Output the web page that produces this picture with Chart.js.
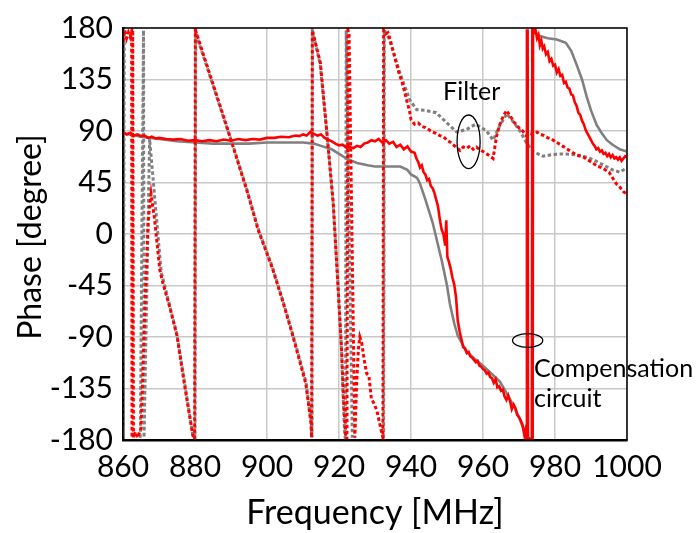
<!DOCTYPE html>
<html>
<head>
<meta charset="utf-8">
<script src="https://cdn.jsdelivr.net/npm/chart.js@4.4.1/dist/chart.umd.min.js"></script>
<style>
  html, body { margin: 0; padding: 0; background: #fff; }
  #phaseChart { display: block; }
</style>
</head>
<body>
<canvas id="phaseChart" width="699" height="533"></canvas>
<script>
// ---- data (frequency in MHz, phase in degrees) ----
const xTicks = [860, 880, 900, 920, 940, 960, 980, 1000];
const yTicks = [-180, -135, -90, -45, 0, 45, 90, 135, 180];

// compensation circuit, simulated (grey solid)
const compSimFreq = [860, 865, 870, 875, 880, 885, 890, 895, 900, 905, 910, 913, 915, 918, 920, 922, 925, 928, 930, 935, 937, 939, 940, 941.7, 942.5, 944, 946, 947, 948.6, 950, 950.8, 952, 953, 955.5, 958, 960, 962, 964.7, 966, 968.3, 970, 972, 973.6, 973.7, 974.5, 975.8, 978, 980.5, 983, 984.5, 986, 987.5, 988.8, 990, 991.6, 993, 994.4, 996, 998, 1000];
const compSimPhase = [88, 85, 83, 81, 80, 79, 79, 79, 80, 80, 80, 79, 77, 74, 70, 66, 62, 60, 59, 59, 59, 56, 52, 49, 44, 30, 10, -3, -24, -45, -61, -78, -89, -103, -110, -115, -121, -129, -136, -149, -160, -177, -180, 180, 176, 173, 171, 170, 167, 160, 148, 135, 120, 108, 95, 88, 82, 78, 74, 72];

// compensation circuit, measured (red solid)
const compMeasFreq = [860, 861, 862, 863, 864, 865, 866, 867, 868, 869, 870, 872, 874, 876, 878, 880, 882, 884, 886, 888, 890, 892, 894, 896, 898, 900, 902, 904, 906, 908, 909, 910, 911, 912, 913, 914, 915, 916, 917, 918, 919, 920, 921, 922, 923, 924, 925, 926, 927, 928, 929, 930, 931, 932, 933, 934, 935, 936, 937, 938, 939, 940, 941, 941.5, 942, 942.5, 943, 943.5, 944, 944.5, 945, 945.5, 946, 946.5, 947, 947.5, 948, 948.5, 949, 949.5, 949.8, 950.1, 950.5, 951, 951.5, 952, 952.5, 953, 953.5, 954, 954.5, 955, 955.5, 956, 956.5, 957, 957.5, 958, 958.5, 959, 959.5, 960, 960.5, 961, 961.5, 962, 962.5, 963, 963.5, 964, 964.5, 965, 965.5, 966, 966.5, 967, 967.5, 968, 968.5, 969, 969.5, 970, 970.5, 971, 971.5, 971.9, 972.1, 972.2, 972.3, 972.4, 972.5, 973.6, 973.7, 973.8, 973.9, 974.2, 974.6, 975, 975.4, 975.8, 976.2, 976.6, 977, 977.5, 978, 978.5, 979, 979.5, 980, 980.5, 981, 981.5, 982, 982.5, 983, 983.5, 984, 984.5, 985, 985.5, 986, 986.5, 987, 987.5, 988, 988.5, 989, 989.5, 990, 990.5, 991, 991.5, 992, 992.5, 993, 993.5, 994, 994.5, 995, 995.5, 996, 996.5, 997, 997.5, 998, 998.5, 999, 999.5, 1000];
const compMeasPhase = [89, 87, 88.5, 86, 87, 85.5, 86, 84, 85, 83.5, 84, 83, 82.5, 83, 81.5, 82, 81, 82, 81, 82.5, 81.5, 83, 82, 83, 82.5, 84, 84, 85, 84.5, 86, 85.5, 87, 86, 89, 87.5, 86, 87, 84, 82.5, 81, 79, 77.5, 78, 75.5, 76, 75, 77, 76, 79, 80, 82, 81, 83, 80, 82, 79, 80.5, 76, 78, 74, 76.5, 72, 71, 66, 63, 58, 60, 54, 52, 47, 48, 42, 40, 36, 30, 24, 13, 4, 0, -10, 12, -20, -24, -30, -38, -44, -55, -76, -85, -92, -99, -100, -104, -103, -107, -108, -110, -112, -111, -115, -116, -118, -119, -122, -121, -125, -126, -130, -127, -134, -133, -137, -136, -142, -145, -141, -146, -153, -149, -152, -158, -160, -163, -167, -176, -170, -179, 179, -179, 179, -179, -179, 179, -179, 179, 176, 178, 171, 174, 165, 169, 162, 164, 157, 159, 151, 153, 147, 148, 141, 144, 138, 139, 132, 133, 128, 127, 122, 121, 115, 112, 106, 104, 99, 96, 91, 88, 85, 82, 79, 77, 74, 75, 72, 73, 70, 71, 68, 70, 67, 69, 66, 67, 65, 67, 64, 66, 68, 67];

// filter, simulated (grey dotted); null = no line drawn
const filterSimFreq = [860, 860.1, 860.35, 860.5, 864.8, 865.7, 865.85, 867.4, 870.6, 875, 879.4, 880, 880.2, 881, 885, 888, 891, 894.7, 897.5, 901.5, 904.4, 907, 910.8, 912.2, 912.5, 912.6, 914.8, 916.6, 918.4, 919.7, 920.7, 921.1, 921.6, 921.8, 922, 923.7, 924, 932.4, 932.6, 934, 936, 937, 939.7, 941.6, 944, 947, 950, 952.7, 955.5, 958, 961, 962.8, 964.7, 966.6, 968.4, 970.3, 972, 974, 976.7, 979.5, 982, 985, 987.8, 990.6, 993, 996, 998, 1000];
const filterSimPhase = [-170, -178, 178, null, -178, 178, -178, 83, -33, -88, -176, -179, 178, 168, 130, 101, 73, 36, 5, -29, -58, -86, -129, -163, -178, 178, 148, 89, 26, -45, -101, -139, -176, -179, 178, -178, null, -178, 178, 170, 150, 140, 117, 108.6, 108, 106, 97, 89, 91.5, 96, 90, 82, 95, 105, 98, 90, 80, 72, 68, 69.5, 70, 69.5, 68, 65, 61, 56, 54, 58];

// filter, measured (red dotted)
const filterMeasFreq = [860, 860.5, 861, 861.5, 862, 862.4, 862.5, 862.7, 862.9, 863.5, 864, 864.5, 865, 866, 867, 867.8, 868.8, 870.2, 871, 873, 875, 877, 879.4, 879.9, 880.1, 881, 882, 885, 888, 891, 894.7, 897.5, 901.5, 904.4, 907, 910.8, 912.2, 912.4, 912.6, 914.8, 916.6, 918.4, 919.7, 920.7, 921.2, 921.8, 922.2, 922.5, 922.8, 924.4, 924.9, 925.4, 925.8, 926.3, 927, 927.7, 928.3, 929, 929.7, 930.5, 931.4, 932.2, 932.4, 933, 933.6, 934.2, 934.6, 935.2, 935.6, 936.2, 936.8, 937.4, 938, 938.5, 939, 939.5, 940, 940.5, 941, 942, 943, 944, 945, 946, 947, 948, 949, 950, 951, 951.7, 952.5, 953.6, 954.5, 955.5, 956.4, 957.3, 958.2, 959, 960, 961, 962, 962.8, 963.3, 963.8, 964.5, 965.2, 966, 966.6, 967.3, 968, 968.8, 969.5, 970.3, 971, 972, 973, 974, 975, 976, 977, 978, 979, 980, 981, 982, 983, 984, 985, 986, 987, 988, 989, 990, 991, 992, 993, 994, 995, 996, 997, 998, 999, 1000];
const filterMeasPhase = [168, 178, 171, 176, 172, 177, -178, 178, -178, -173, -178, -174, -170, -73, 12, 35, 12, -31, -42, -64, -89, -130, -176, -179, 178, 170, 160, 131, 102, 72, 35, 4, -30, -59, -87, -131, -165, -178, 178, 150, 90, 27, -44, -100, -140, -176, -179, 178, 175, -178, -130, -100, -90, -95, -110, -122, -124, -144, -148, -154, -167, -178, 178, 175, 176, 170, 165, 158, 153, 146, 139, 134, 127, 121, 114, 109, 100, 98, 96, 97, 94, 93, 91, 89, 88, 86, 85, 82, 80, 78, 76, 73, 76, 75, 77, 74, 76, 74, 72, 70, 68, 66, 76, 86, 94, 100, 105, 108, 104, 101, 97, 95, 91, 90, 86, 88, 87, 89, 87, 86, 84, 83, 81, 79, 77, 75, 73, 71, 69, 68, 67, 65, 63, 61, 59, 58, 56, 54, 49, 44, 41, 37, 35];

const FONT = "Lato, 'Noto Sans', sans-serif";

function toPoints(freqs, phases) {
  return freqs.map((f, i) => ({ x: f, y: phases[i] }));
}

// ---- annotations (ellipses + labels), placed in data coordinates ----
const annotationPlugin = {
  id: "phaseAnnotations",
  afterDatasetsDraw(chart) {
    const { ctx, scales: { x, y } } = chart;
    ctx.save();
    ctx.strokeStyle = "#000";
    ctx.lineWidth = 1.3;

    // filter ellipse
    ctx.beginPath();
    ctx.ellipse(x.getPixelForValue(956.0), y.getPixelForValue(80.6),
      Math.abs(x.getPixelForValue(959.2) - x.getPixelForValue(956.0)),
      Math.abs(y.getPixelForValue(104) - y.getPixelForValue(80.6)), 0, 0, Math.PI * 2);
    ctx.stroke();

    // compensation ellipse
    ctx.beginPath();
    ctx.ellipse(x.getPixelForValue(972.4), y.getPixelForValue(-93),
      Math.abs(x.getPixelForValue(976.6) - x.getPixelForValue(972.4)),
      Math.abs(y.getPixelForValue(-87) - y.getPixelForValue(-93)), 0, 0, Math.PI * 2);
    ctx.stroke();

    ctx.fillStyle = "#000";
    ctx.font = "25px " + FONT;
    ctx.textBaseline = "middle";
    ctx.textAlign = "left";
    ctx.fillText("Filter", x.getPixelForValue(948.9), y.getPixelForValue(124));
    ctx.fillText("Compensation", x.getPixelForValue(974.2), y.getPixelForValue(-118));
    ctx.fillText("circuit", x.getPixelForValue(974.2), y.getPixelForValue(-144));
    ctx.restore();
  },
  afterDraw(chart) {
    const { ctx, chartArea: a } = chart;
    ctx.save();
    ctx.strokeStyle = "#000";
    ctx.lineWidth = 1.5;
    ctx.strokeRect(a.left, a.top, a.right - a.left, a.bottom - a.top);

    // y axis title, drawn by hand so it sits where the reference has it
    ctx.fillStyle = "#000";
    ctx.font = "32px " + FONT;
    ctx.textAlign = "center";
    ctx.textBaseline = "middle";
    ctx.translate(31, 237);
    ctx.rotate(-Math.PI / 2);
    ctx.fillText("Phase [degree]", 0, 0);
    ctx.restore();
  },
};

const datasets = [
  {
    label: "Compensation (meas.)",
    data: toPoints(compMeasFreq, compMeasPhase),
    borderColor: "#ff0000",
    borderWidth: 2.6,
  },
  {
    label: "Filter (meas.)",
    data: toPoints(filterMeasFreq, filterMeasPhase),
    borderColor: "#ff0000",
    borderWidth: 3,
    borderDash: [3.5, 2.5],
  },
  {
    label: "Filter (sim.)",
    data: toPoints(filterSimFreq, filterSimPhase),
    borderColor: "#808080",
    borderWidth: 3,
    borderDash: [3.5, 2.5],
  },
  {
    label: "Compensation (sim.)",
    data: toPoints(compSimFreq, compSimPhase),
    borderColor: "#808080",
    borderWidth: 2.6,
  },
].map(ds => ({
  ...ds,
  pointRadius: 0,
  tension: 0,
  fill: false,
  spanGaps: false,
  clip: 0,
}));

function axisTicks(values) {
  return function (scale) {
    scale.ticks = values.map(v => ({ value: v }));
  };
}

new Chart(document.getElementById("phaseChart").getContext("2d"), {
  type: "line",
  data: { datasets },
  plugins: [annotationPlugin],
  options: {
    responsive: false,
    animation: false,
    devicePixelRatio: 1,
    layout: { padding: { top: 18, right: 72, left: 0, bottom: 0 } },
    plugins: {
      legend: { display: false },
      tooltip: { enabled: false },
    },
    scales: {
      x: {
        type: "linear",
        min: 860,
        max: 1000,
        afterBuildTicks: axisTicks(xTicks),
        afterFit: scale => { scale.height = 93; },
        ticks: {
          color: "#000",
          font: { family: FONT, size: 30 },
          padding: 9,
          maxRotation: 0,
          autoSkip: false,
          callback: v => String(v),
        },
        grid: { color: "#c8c8c8", lineWidth: 1.5, drawTicks: false },
        border: { color: "#000", width: 2.5 },
        title: {
          display: true,
          text: "Frequency [MHz]",
          color: "#000",
          font: { family: FONT, size: 34 },
          padding: { top: 0, bottom: 0 },
        },
      },
      y: {
        type: "linear",
        min: -180,
        max: 180,
        afterBuildTicks: axisTicks(yTicks),
        afterFit: scale => { scale.width = 123; },
        ticks: {
          color: "#000",
          font: { family: FONT, size: 30 },
          padding: 10,
          autoSkip: false,
          callback: v => String(v),
        },
        grid: { color: "#c8c8c8", lineWidth: 1.5, drawTicks: false },
        border: { color: "#000", width: 2.5 },
        title: { display: false },
      },
    },
  },
});
</script>
</body>
</html>
